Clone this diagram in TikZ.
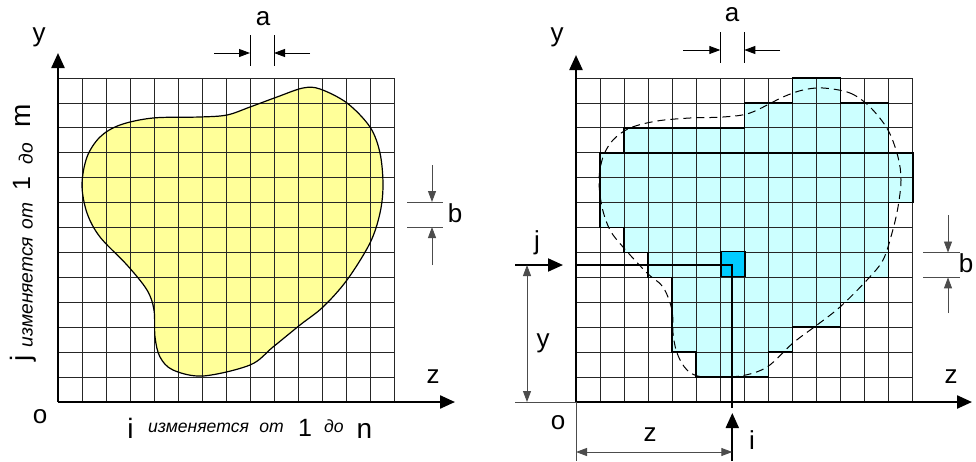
\documentclass[tikz,border=0pt]{standalone}
\usepackage{fontspec}
\setmainfont{Liberation Sans}
\usetikzlibrary{arrows.meta}
\newcommand\fbig{\fontsize{26}{31}\selectfont}
\newcommand\fvar{\fontsize{28}{33}\selectfont}
\newcommand\fone{\fontsize{25}{30}\selectfont}
\newcommand\fital{\fontsize{17.6}{21}\selectfont\itshape}
\newcommand\fitalv{\fontsize{19.2}{23}\selectfont\itshape}
\definecolor{blobyellow}{HTML}{FFFF99}
\definecolor{lightcyan}{HTML}{CCFFFF}
\definecolor{cellcyan}{HTML}{00CCFF}
\tikzset{
  gridln/.style={draw=black!85, line width=0.85pt},
  axisarrow/.style={line width=2.3pt, -{Triangle[length=15pt,width=13pt]}},
  bigarrow/.style={line width=2pt, -{Triangle[length=15pt,width=13pt]}},
  dimarrow/.style={line width=0.9pt, -{Triangle[length=11pt,width=8pt]}},
  dimtick/.style={line width=0.8pt, draw=black!70},
  dimboth/.style={line width=0.9pt, draw=black!70, {Triangle[length=11pt,width=8pt]}-{Triangle[length=11pt,width=8pt]}},
  lbl/.style={font=\fbig, inner sep=0pt},
  word/.style={inner sep=0pt, anchor=base},
  vword/.style={inner sep=0pt, anchor=base, rotate=90},
}
\begin{document}
\begin{tikzpicture}[x=1pt,y=-1pt]
\useasboundingbox (0,0) rectangle (976,461);
\fill[white] (0,0) rectangle (976,461);

% ================= LEFT PANEL =================
\fill[blobyellow] plot[smooth cycle, tension=0.55] coordinates {
 (82,185) (87,213) (100,237) (127,265) (147,290) (154,310) (155,337) (160,357)
 (173,370) (203,376) (250,365) (273,347) (300,325) (323,307) (347,280) (370,243)
 (380,213) (383,185) (380,153) (370,127) (347,103) (320,89) (303,88) (277,97)
 (250,107) (227,115) (200,117) (153,118) (120,125) (100,137) (87,157)};
\begin{scope}[xshift=58pt, yshift=-402pt, x=24.05pt, y=24.92pt]
  \foreach \k in {0,...,14} \draw[gridln] (\k,0) -- (\k,13);
  \foreach \r in {0,...,13} \draw[gridln] (0,\r) -- (14,\r);
\end{scope}
\draw[line width=1.2pt] plot[smooth cycle, tension=0.55] coordinates {
 (82,185) (87,213) (100,237) (127,265) (147,290) (154,310) (155,337) (160,357)
 (173,370) (203,376) (250,365) (273,347) (300,325) (323,307) (347,280) (370,243)
 (380,213) (383,185) (380,153) (370,127) (347,103) (320,89) (303,88) (277,97)
 (250,107) (227,115) (200,117) (153,118) (120,125) (100,137) (87,157)};

\coordinate (O1) at (58,402);
\coordinate (Y1) at (58,53);
\coordinate (Z1) at (455,402);
\draw[axisarrow] (O1) -- (Y1);
\draw[axisarrow] (O1) -- (Z1);

\node[lbl] (y1) at (39,37) {y};
\node[lbl] (z1) at (433,377) {z};
\node[lbl] (o1) at (40,417) {o};
\node[lbl] (a1) at (263,19) {a};
\node[lbl] (b1) at (455,213) {b};

% a dimension (left)
\coordinate (a1l) at (250,53); \coordinate (a1r) at (274,53);
\draw[dimtick,draw=black] (250,35) -- (250,66);
\draw[dimtick,draw=black] (274,35) -- (274,66);
\draw[dimarrow] (214,53) -- (a1l);
\draw[dimarrow] (310,53) -- (a1r);
% b dimension (left)
\coordinate (b1t) at (432,202); \coordinate (b1b) at (432,227);
\draw[dimtick] (407,202) -- (443,202);
\draw[dimtick] (407,227) -- (443,227);
\draw[dimarrow,draw=black!70] (432,165) -- (b1t);
\draw[dimarrow,draw=black!70] (432,265) -- (b1b);

% vertical caption: j изменяется от 1 до m
\node[vword, font=\fvar]  (vj)  at (30,358.5) {j};
\node[vword, font=\fitalv] (viz) at (32.7,292) {изменяется};
\node[vword, font=\fitalv] (vot) at (32.7,216) {от};
\node[vword, font=\fone]  (v1)  at (30,184) {1};
\node[vword, font=\fitalv] (vdo) at (32.7,153.5) {до};
\node[vword, font=\fvar]  (vm)  at (30,116) {m};

% horizontal caption: i изменяется от 1 до n
\node[word, font=\fvar]  (hi)  at (130.5,438) {i};
\node[word, font=\fital] (hiz) at (198.5,432) {изменяется};
\node[word, font=\fital] (hot) at (271.5,432) {от};
\node[word, font=\fone]  (h1)  at (305,436) {1};
\node[word, font=\fital] (hdo) at (334,432) {до};
\node[word, font=\fvar]  (hn)  at (364.5,438) {n};

% ================= RIGHT PANEL =================
\begin{scope}[xshift=576pt, yshift=-402pt, x=24.05pt, y=24.92pt]
  \fill[lightcyan] (9,13) -- (11,13) -- (11,12) -- (13,12) -- (13,10) -- (14,10) -- (14,8)
    -- (13,8) -- (13,5) -- (12,5) -- (12,4) -- (11,4) -- (11,3) -- (9,3) -- (9,2) -- (8,2)
    -- (8,1) -- (5,1) -- (5,2) -- (4,2) -- (4,5) -- (3,5) -- (3,6) -- (2,6) -- (2,7) -- (1,7)
    -- (1,10) -- (2,10) -- (2,11) -- (7,11) -- (7,12) -- (9,12) -- cycle;
  \foreach \k in {0,...,14} \draw[gridln] (\k,0) -- (\k,13);
  \foreach \r in {0,...,13} \draw[gridln] (0,\r) -- (14,\r);
  \draw[line width=1.6pt, line join=miter] (9,13) -- (11,13) -- (11,12) -- (13,12) -- (13,10) -- (14,10) -- (14,8)
    -- (13,8) -- (13,5) -- (12,5) -- (12,4) -- (11,4) -- (11,3) -- (9,3) -- (9,2) -- (8,2)
    -- (8,1) -- (5,1) -- (5,2) -- (4,2) -- (4,5) -- (3,5) -- (3,6) -- (2,6) -- (2,7) -- (1,7)
    -- (1,10) -- (2,10) -- (2,11) -- (7,11) -- (7,12) -- (9,12) -- cycle;
  \draw[line width=1.6pt] (1,10) -- (14,10);
  \node[fill=cellcyan, draw=black, line width=1.8pt, minimum width=24.05pt, minimum height=24.92pt,
        inner sep=0pt, anchor=south west] (cell) at (6,5) {};
\end{scope}

\draw[dash pattern=on 8pt off 5pt, line width=1pt] plot[smooth cycle, tension=0.55] coordinates {
 (823,88) (850,93) (870,107) (888,130) (898,157) (901,180) (898,207) (892,233) (883,260)
 (867,280) (840,307) (817,325) (793,343) (767,367) (740,376) (703,377) (687,370) (677,353)
 (673,333) (672,310) (663,287) (647,273) (623,247) (610,230) (602,207) (599,180) (603,157)
 (613,140) (630,128) (657,121) (690,118) (723,117) (750,113) (783,97) (803,90)};

\coordinate (O2) at (576,402);
\coordinate (Y2) at (576,55);
\coordinate (Z2) at (972,402);
\draw[axisarrow] (O2) -- (Y2);
\draw[axisarrow] (O2) -- (Z2);

% point lines
\coordinate (P) at (732.3,265);
\coordinate (Pj) at (576,265);
\coordinate (Pi) at (732.3,408);
\draw[line width=2pt] (Pj) -- (P) -- (Pi);
\coordinate (jstart) at (515,265);
\coordinate (jend) at (563,265);
\draw[bigarrow] (jstart) -- (jend);
\coordinate (istart) at (732.3,461);
\coordinate (iend) at (732.3,413);
\draw[bigarrow] (istart) -- (iend);

% y dimension
\coordinate (ydtop) at (527,265);
\coordinate (ydbot) at (527,402);
\draw[line width=0.8pt, draw=black!70] (515,402) -- (O2);
\draw[dimboth] (ydtop) -- (ydbot);
% z dimension
\coordinate (zdl) at (576,452);
\coordinate (zdr) at (732.3,452);
\draw[line width=0.8pt, draw=black!70] (O2) -- (576,461);
\draw[dimboth] (zdl) -- (zdr);

\node[lbl] (y2) at (557,37) {y};
\node[lbl] (z2) at (951,377) {z};
\node[lbl] (o2) at (558,423) {o};
\node[lbl] (a2) at (732,15) {a};
\node[lbl] (b2) at (966,263) {b};
\node[lbl] (j2) at (537,243) {j};
\node[lbl] (yd) at (543,343) {y};
\node[lbl] (zd) at (650,435) {z};
\node[lbl] (i2) at (752,440) {i};

% a dimension (right)
\coordinate (a2l) at (720.3,50); \coordinate (a2r) at (744.3,50);
\draw[dimtick,draw=black] (720.3,32) -- (720.3,63);
\draw[dimtick,draw=black] (744.3,32) -- (744.3,63);
\draw[dimarrow] (683,50) -- (a2l);
\draw[dimarrow] (780,50) -- (a2r);
% b dimension (right)
\coordinate (b2t) at (948,252.5); \coordinate (b2b) at (948,277.4);
\draw[dimtick] (923,252.5) -- (960,252.5);
\draw[dimtick] (923,277.4) -- (960,277.4);
\draw[dimarrow,draw=black!70] (948,215) -- (b2t);
\draw[dimarrow,draw=black!70] (948,313) -- (b2b);
\end{tikzpicture}
\end{document}
